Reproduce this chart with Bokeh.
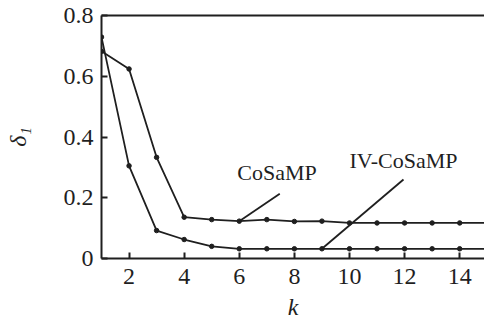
from bokeh.plotting import figure
from bokeh.models import LinearAxis, Range1d, FixedTicker, Label
from bokeh.embed import file_html
from bokeh.resources import INLINE

# ---- data ----
k = [1, 2, 3, 4, 5, 6, 7, 8, 9, 10, 11, 12, 13, 14, 15]
cosamp = [0.682, 0.624, 0.333, 0.136, 0.128, 0.123, 0.128, 0.122, 0.123,
          0.117, 0.117, 0.117, 0.117, 0.117, 0.117]
iv_cosamp = [0.729, 0.305, 0.092, 0.0625, 0.040, 0.032, 0.032, 0.032, 0.032,
             0.032, 0.032, 0.032, 0.032, 0.032, 0.032]
x_ticks = [2, 4, 6, 8, 10, 12, 14]
y_ticks = [0, 0.2, 0.4, 0.6, 0.8]
y_tick_labels = ["0", "0.2", "0.4", "0.6", "0.8"]

# annotation texts and leader lines (data coords)
ann_text = ["CoSaMP", "IV-CoSaMP"]
ann_text_x = [7.37, 11.96]
ann_text_y = [0.283, 0.323]
lead_x0 = [6, 9]
lead_y0 = [0.123, 0.032]
lead_x1 = [7.47, 11.96]
lead_y1 = [0.213, 0.26]

FONT = "Liberation Serif"
INK = "#1f1f1f"

p = figure(width=484, height=322, x_range=Range1d(1, 14.9), y_range=Range1d(0, 0.8),
           output_backend="svg", toolbar_location=None,
           min_border_left=101, min_border_top=15, min_border_bottom=64, min_border_right=0)
p.outline_line_color = None
p.xgrid.visible = False
p.ygrid.visible = False
p.background_fill_color = "white"
p.border_fill_color = "white"

for ax in (p.xaxis[0], p.yaxis[0]):
    ax.axis_line_width = 2
    ax.axis_line_color = INK
    ax.major_tick_line_width = 2
    ax.major_tick_line_color = INK
    ax.major_tick_in = 6
    ax.major_tick_out = 0
    ax.minor_tick_line_color = None
    ax.major_label_text_font = FONT
    ax.major_label_text_font_size = "24px"
    ax.major_label_text_color = INK
    ax.axis_label_text_font = FONT
    ax.axis_label_text_font_size = "24px"
    ax.axis_label_text_font_style = "italic"
    ax.axis_label_text_color = INK

p.xaxis[0].ticker = FixedTicker(ticks=x_ticks)
p.xaxis[0].major_label_standoff = 10
p.xaxis[0].axis_label = "k"
p.xaxis[0].axis_label_standoff = 7
p.yaxis[0].ticker = FixedTicker(ticks=y_ticks)
p.yaxis[0].major_label_overrides = {t: s for t, s in zip(y_ticks, y_tick_labels)}
p.yaxis[0].major_label_standoff = 8
p.yaxis[0].axis_label = "δ₁"
p.yaxis[0].axis_label_standoff = 30

top = LinearAxis(ticker=FixedTicker(ticks=[]), axis_line_width=2, axis_line_color=INK,
                 major_tick_line_color=None, minor_tick_line_color=None,
                 major_label_text_color=None)
p.add_layout(top, "above")

for ys in (cosamp, iv_cosamp):
    p.line(k, ys, line_color=INK, line_width=1.8)
    p.scatter(k, ys, size=4.5, fill_color=INK, line_color=INK)

p.segment(lead_x0, lead_y0, lead_x1, lead_y1, line_color=INK, line_width=1.8)

for t, x, y in zip(ann_text, ann_text_x, ann_text_y):
    p.add_layout(Label(x=x, y=y, text=t, text_font=FONT, text_font_size="22px",
                       text_color=INK, text_align="center", text_baseline="middle"))

open("out.html", "w").write(file_html(p, INLINE))
